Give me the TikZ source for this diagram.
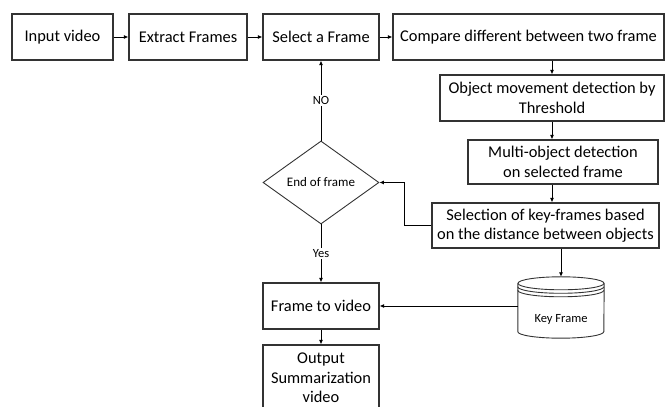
\documentclass[tikz,border=0pt]{standalone}
\usepackage{fontspec}
\setmainfont{Carlito}
\usetikzlibrary{arrows.meta,positioning,calc,shapes.geometric}

\begin{document}
\begin{tikzpicture}[x=1pt,y=1pt,
  process/.style={draw=black!80,line width=1.2pt,align=center,
    minimum height=46pt,inner sep=2pt,
    font=\fontsize{16.4}{19.5}\selectfont},
  decision/.style={diamond,draw=black!80,line width=.9pt,
    minimum width=116pt,minimum height=83pt,inner sep=0pt,
    font=\fontsize{13}{15}\selectfont},
  store/.style={draw=black!80,line width=.9pt},
  flow/.style={-{Latex[length=4.5pt,width=4pt]},line width=.9pt},
  answer/.style={fill=white,inner sep=1.5pt,
    font=\fontsize{12.5}{14}\selectfont}
]
% Page frame, bottom of the last box runs off the edge.
\useasboundingbox (0,0) rectangle (665,407);

\node[process,minimum width=101pt] (input) at (62.5,370) {Input video};
\node[process,minimum width=118pt] (extract) at (188,370) {Extract Frames};
\node[process,minimum width=116pt] (select) at (321,370) {Select a Frame};
\node[process,minimum width=271pt] (compare) at (528.5,370)
  {Compare different between two frame};
\node[process,minimum width=224pt] (movement) at (552,309)
  {Object movement detection by\\Threshold};
\node[process,minimum width=190pt,minimum height=44pt] (multi) at (563,245)
  {Multi-object detection\\on selected frame};
\node[process,minimum width=227pt,minimum height=45pt] (keysel) at (545.5,181.5)
  {Selection of key-frames based\\on the distance between objects};
\node[decision] (endframe) at (321,224.5) {End of frame};
\node[process,minimum width=116pt] (tovideo) at (321,101) {Frame to video};
\node[process,minimum width=116pt,minimum height=66pt] (output) at (321,29)
  {Output\\Summarization\\video};

% key frame store
\node[minimum width=86pt,minimum height=61pt,inner sep=0pt] (keyframe) at (561,99.5) {};
\node[font=\fontsize{12.5}{14}\selectfont] (keyframe-text) at ([yshift=-12pt]keyframe.center)
  {Key Frame};
\draw[store] ([yshift=-6.5pt]keyframe.north) ellipse (43pt and 6.5pt);
\draw[store] ([yshift=-6.5pt]keyframe.north west) -- ([yshift=6.5pt]keyframe.south west)
  arc (180:360:43pt and 6.5pt) -- ([yshift=-6.5pt]keyframe.north east);
\foreach \d in {10,13.5}
  \draw[store] ([yshift=-\d pt]keyframe.north west) arc (180:360:43pt and 6.5pt);

\draw[flow] (input) -- (extract);
\draw[flow] (extract) -- (select);
\draw[flow] (select) -- (compare);
\draw[flow] (compare.south -| movement.north) -- (movement.north);
\draw[flow] (movement.south) -- (movement.south |- multi.north);
\draw[flow] (movement.south |- multi.south) -- (movement.south |- keysel.north);
\draw[flow] (keysel.south -| keyframe.north) -- (keyframe.north);
\draw[flow] (keysel.west) -- ++(-27,0) |- (endframe.east);
\draw[flow] (endframe.north) -- node[answer] {NO} (select.south);
\draw[flow] (endframe.south) -- node[answer] {Yes} (tovideo.north);
\draw[flow] (keyframe.west |- tovideo.east) -- (tovideo.east);
\draw[flow] (tovideo) -- (output);
\end{tikzpicture}
\end{document}
